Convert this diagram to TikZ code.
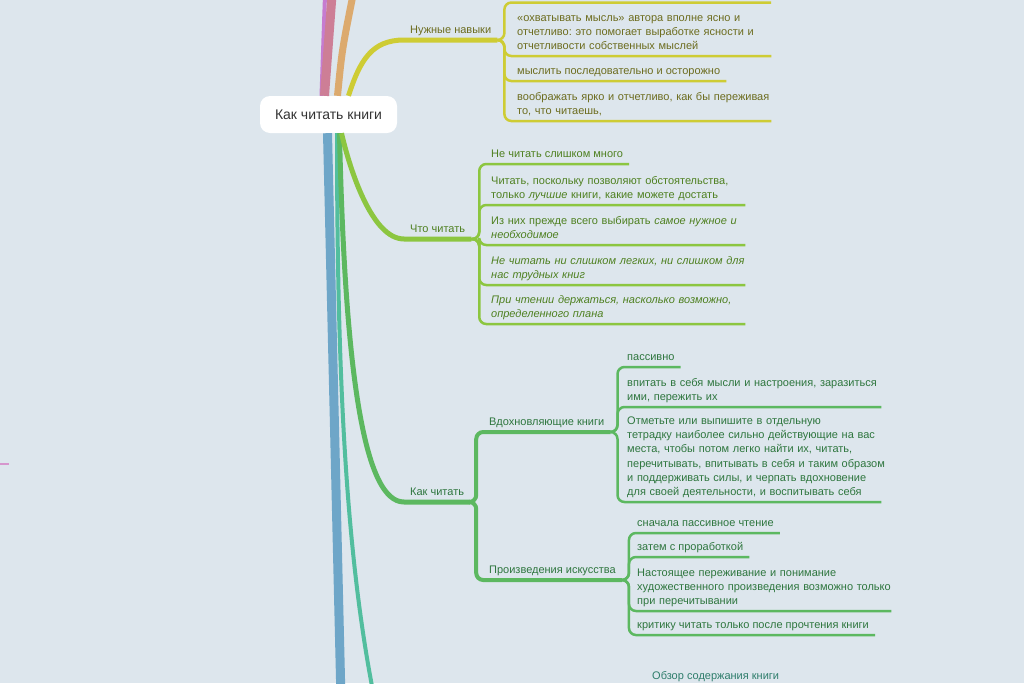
\documentclass[tikz,border=0pt]{standalone}
\usepackage{fontspec}
\setmainfont{Liberation Sans}
\usetikzlibrary{calc}
\frenchspacing
\definecolor{bgcol}{RGB}{221,230,237}
\definecolor{roottext}{RGB}{51,51,51}
\definecolor{ylline}{RGB}{206,204,52}
\definecolor{yltext}{RGB}{108,108,30}
\definecolor{lgline}{RGB}{140,198,64}
\definecolor{lgtext}{RGB}{78,128,32}
\definecolor{gnline}{RGB}{92,184,96}
\definecolor{gntext}{RGB}{46,118,62}
\definecolor{tlline}{RGB}{82,190,158}
\definecolor{tltext}{RGB}{46,125,107}
\definecolor{blline}{RGB}{110,166,200}
\definecolor{pkline}{RGB}{205,126,150}
\definecolor{ppline}{RGB}{198,124,208}
\definecolor{orline}{RGB}{220,170,110}
\definecolor{pkleft}{RGB}{214,150,205}

\begin{document}
\begin{tikzpicture}[x=1pt,y=-1pt,
  topic/.style={anchor=south west,inner xsep=6pt,inner ysep=2pt,align=left,
    font=\fontsize{11}{14.2}\selectfont,
    execute at begin node=\strut,execute at end node=\strut},
  wide/.style={topic,text width=248pt},
  fork/.style={rounded corners=7pt}]
\useasboundingbox (0,0) rectangle (1024,683);
\fill[bgcol] (0,0) rectangle (1024,683);
\clip (0,0) rectangle (1024,683);

\node[fill=white,rounded corners=10pt,minimum width=137pt,minimum height=37pt,inner sep=0pt,
  text=roottext,font=\fontsize{14}{16}\selectfont] (root) at (328.5,114.5) {Как читать книги};

\coordinate (ppend) at (325,-5);
\coordinate (pkend) at (332,-5);
\coordinate (orend) at (353,-5);
\draw[ppline,line width=4pt] ($(root.north)+(-7,0)$) -- (ppend);
\draw[pkline,line width=9pt] ($(root.north)+(-4,0)$) -- (pkend);
\draw[orline,line width=7pt] ($(root.north)+(9,0)$) .. controls (342,50) .. (orend);

\node[topic,text=yltext] (nav) at (404,40) {Нужные навыки};
\draw[ylline,line width=5pt] ($(root.north)+(20,0)$) .. controls (360,60) and (372,40) .. (nav.south west) -- (nav.south east);
\coordinate (nav0) at (771,2.5);
\node[wide,text=yltext] (nav1) at (511,56) {\mbox{«охватывать мысль» автора вполне ясно и}\\\mbox{отчетливо: это помогает выработке ясности и}\\\mbox{отчетливости собственных мыслей}};
\node[topic,text=yltext] (nav2) at (511,81) {мыслить последовательно и осторожно};
\node[wide,text=yltext] (nav3) at (511,121) {\mbox{воображать ярко и отчетливо, как бы переживая}\\\mbox{то, что читаешь,}};
\draw[ylline,line width=2.5pt,fork] (nav.south east) -- ++(7,0) |- (nav0);
\foreach \c in {nav1,nav2,nav3}
  \draw[ylline,line width=2.5pt,fork] (nav.south east) -- ++(7,0) |- (\c.south east);

\coordinate (tlend) at (400,800);
\draw[tlline,line width=4pt] ($(root.south)+(8.5,0)$) .. controls (337,430) and (350,640) .. (tlend);
\node[topic,text=tltext] (obzor) at (646,686) {Обзор содержания книги};

\coordinate (blend) at (341,700);
\draw[blline,line width=9pt] ($(root.south)+(-1,0)$) -- (blend);

\node[topic,text=gntext] (kak) at (404,502) {Как читать};
\draw[gnline,line width=5pt] ($(root.south)+(11,0)$) .. controls (345,380) and (365,502) .. (kak.south west) -- (kak.south east);
\node[topic,text=gntext] (vdoh) at (483,432) {Вдохновляющие книги};
\node[topic,text=gntext] (proiz) at (483,580) {Произведения искусства};
\foreach \c in {vdoh,proiz}
  \draw[gnline,line width=4pt,fork] (kak.south east) -- ++(6,0) |- (\c.south east);
\node[topic,text=gntext] (vd1) at (621,367) {пассивно};
\node[wide,text=gntext] (vd2) at (621,407) {\mbox{впитать в себя мысли и настроения, заразиться}\\\mbox{ими, пережить их}};
\node[wide,text=gntext] (vd3) at (621,502) {\mbox{Отметьте или выпишите в отдельную}\\\mbox{тетрадку наиболее сильно действующие на вас}\\\mbox{места, чтобы потом легко найти их, читать,}\\\mbox{перечитывать, впитывать в себя и таким образом}\\\mbox{и поддерживать силы, и черпать вдохновение}\\\mbox{для своей деятельности, и воспитывать себя}};
\foreach \c in {vd1,vd2,vd3}
  \draw[gnline,line width=2.5pt,fork] (vdoh.south east) -- ++(7,0) |- (\c.south east);
\node[topic,text=gntext] (pr1) at (631,533) {сначала пассивное чтение};
\node[topic,text=gntext] (pr2) at (631,557) {затем с проработкой};
\node[wide,text=gntext] (pr3) at (631,611) {\mbox{Настоящее переживание и понимание}\\\mbox{художественного произведения возможно только}\\\mbox{при перечитывании}};
\node[topic,text=gntext] (pr4) at (631,635) {критику читать только после прочтения книги};
\foreach \c in {pr1,pr2,pr3,pr4}
  \draw[gnline,line width=2.5pt,fork] (proiz.south east) -- ++(7,0) |- (\c.south east);

\node[topic,text=lgtext] (chto) at (404,239) {Что читать};
\draw[lgline,line width=5pt] ($(root.south)+(13,0)$) .. controls (350,170) and (372,239) .. (chto.south west) -- (chto.south east);
\node[topic,text=lgtext] (ch1) at (485,164) {Не читать слишком много};
\node[wide,text=lgtext] (ch2) at (485,205) {\mbox{Читать, поскольку позволяют обстоятельства,}\\\mbox{только \textit{лучшие} книги, какие можете достать}};
\node[wide,text=lgtext] (ch3) at (485,245) {\mbox{Из них прежде всего выбирать \textit{самое нужное и}}\\\mbox{\textit{необходимое}}};
\node[wide,text=lgtext,font=\fontsize{11}{14.2}\selectfont\itshape] (ch4) at (485,285) {\mbox{Не читать ни слишком легких, ни слишком для}\\\mbox{нас трудных книг}};
\node[wide,text=lgtext,font=\fontsize{11}{14.2}\selectfont\itshape] (ch5) at (485,324) {\mbox{При чтении держаться, насколько возможно,}\\\mbox{определенного плана}};
\foreach \c in {ch1,ch2,ch3,ch4,ch5}
  \draw[lgline,line width=2.5pt,fork] (chto.south east) -- ++(8,0) |- (\c.south east);

\coordinate (lfa) at (-2,464);
\coordinate (lfb) at (8.5,464);
\draw[pkleft,line width=2.5pt] (lfa) -- (lfb);
\end{tikzpicture}
\end{document}
